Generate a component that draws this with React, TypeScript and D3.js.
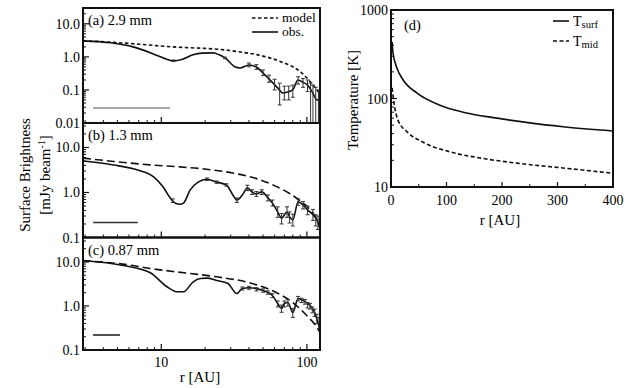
import * as d3 from "d3";

// ---- data ----
// panel (a) 2.9 mm
const modelA = [[2.9, 3.05], [5, 2.7], [8, 2.3], [11, 2.05], [15, 1.9], [20, 1.8], [27, 1.63], [35, 1.4], [46, 1.15], [57, 0.9], [67, 0.7], [80, 0.5], [92, 0.33], [103, 0.2], [113, 0.123], [123, 0.075]];
const obsA = [[2.9, 3.05], [4.5, 2.66], [6.4, 2.0], [8.8, 1.23], [10.5, 0.9], [12.1, 0.76], [14, 0.85], [16.5, 1.15], [19, 1.3], [22.7, 1.32], [25, 1.15], [27.4, 0.93], [32, 0.5], [34.7, 0.46], [40, 0.57], [46, 0.46], [51.6, 0.28], [57.5, 0.175], [63, 0.115], [68.5, 0.081], [74, 0.087], [80, 0.1], [86.7, 0.2], [94, 0.17], [101, 0.14], [110, 0.08], [117, 0.05], [123, 0.05]];
const errA = [[12.1, 0.72, 0.8], [27.4, 0.88, 0.98], [40, 0.5, 0.65], [45, 0.42, 0.58], [50, 0.27, 0.4], [55, 0.17, 0.28], [60, 0.1, 0.21], [65, 0.035, 0.16], [70, 0.05, 0.13], [75, 0.05, 0.13], [80, 0.06, 0.14], [87, 0.15, 0.25], [94, 0.12, 0.22], [101, 0.09, 0.2], [106, 0.008, 0.16], [110, 0.005, 0.14], [115, 0.005, 0.12], [120, 0.005, 0.1]];

// panel (b) 1.3 mm
const modelB = [[2.9, 5.8], [4.7, 4.9], [8.4, 4.1], [13.5, 3.7], [18.5, 3.4], [31, 2.7], [47, 1.95], [62, 1.35], [76, 0.95], [90, 0.65], [105, 0.42], [115, 0.28], [123, 0.17]];
const obsB = [[2.9, 5.0], [4.7, 4.08], [6.8, 3.2], [8.9, 2.2], [10.3, 1.33], [11.5, 0.76], [12.5, 0.58], [13.5, 0.55], [14.2, 0.58], [15.8, 1.14], [17.9, 1.7], [20.6, 1.97], [24, 1.7], [28, 1.47], [31, 0.88], [33, 0.68], [36, 0.88], [39, 1.26], [42, 1.03], [44.7, 0.93], [49, 1.03], [54, 0.76], [58, 0.58], [63, 0.37], [67, 0.27], [73, 0.37], [76, 0.29], [80, 0.245], [87, 0.62], [94, 0.53], [101, 0.41], [110, 0.32], [119, 0.22], [123, 0.16]];
const errB = [[12, 0.6, 0.72], [20.6, 1.85, 2.1], [24, 1.6, 1.8], [28, 1.38, 1.56], [33, 0.6, 0.76], [39, 1.1, 1.45], [42, 0.9, 1.15], [45, 0.82, 1.05], [49, 0.9, 1.15], [54, 0.65, 0.88], [58, 0.5, 0.68], [63, 0.28, 0.48], [67, 0.2, 0.34], [73, 0.28, 0.48], [76, 0.21, 0.37], [80, 0.18, 0.33], [87, 0.52, 0.72], [94, 0.43, 0.63], [101, 0.32, 0.5], [110, 0.24, 0.42], [115, 0.18, 0.32], [119, 0.15, 0.3], [123, 0.1, 0.25]];

// panel (c) 0.87 mm
const modelC = [[2.9, 10.7], [6.4, 8.3], [8.4, 7.1], [12, 6.1], [24, 4.6], [40, 3.4], [62, 2.0], [80, 1.2], [100, 0.6], [117, 0.33], [123, 0.25]];
const obsC = [[2.9, 10.8], [5.5, 8.3], [8.4, 5.7], [11, 2.7], [12.9, 2.1], [14.2, 2.1], [16.5, 3.5], [18.5, 4.2], [20.6, 4.3], [24, 3.8], [28.7, 3.25], [33, 1.92], [36, 2.5], [40, 2.6], [50, 2.25], [58, 1.73], [63, 1.14], [67, 0.88], [70, 1.14], [74, 1.2], [80, 0.71], [87, 1.48], [97, 1.26], [105, 1.03], [113, 0.71], [119, 0.42], [123, 0.28]];
const errC = [[36, 2.3, 2.7], [40, 2.4, 2.8], [45, 2.2, 2.6], [50, 2.05, 2.45], [54, 1.85, 2.2], [58, 1.55, 1.9], [63, 0.95, 1.3], [67, 0.72, 1.05], [70, 0.95, 1.3], [74, 1.0, 1.4], [80, 0.55, 0.88], [87, 1.3, 1.65], [92, 1.2, 1.5], [97, 1.1, 1.4], [101, 0.9, 1.2], [105, 0.85, 1.15], [109, 0.7, 0.95], [113, 0.58, 0.85], [117, 0.4, 0.65], [121, 0.3, 0.55]];

// panel (d) temperatures
const tSurf = [[2, 435], [3.6, 327], [10, 227], [22, 162], [47, 115], [88, 84], [130, 70], [191, 60], [250, 53], [310, 48], [400, 43]];
const tMid = [[2, 132], [5.4, 89], [12.6, 57], [29, 42], [58, 32], [106, 25], [166, 21], [227, 18.6], [310, 16.4], [400, 14.3]];

const leftTicksA = [10, 1, 0.1, 0.01];
const leftTicksBC = [10, 1, 0.1];
const rTicks = [10, 100];
const tempTicks = [1000, 100, 10];
const rLinTicks = [0, 100, 200, 300, 400];

const FONT = "Liberation Serif, Times New Roman, serif";

const x = d3.scaleLog().domain([2.9, 123]).range([83, 320]);

function fmt(v: number) {
  return v >= 1 ? v.toFixed(1) : v === 0.01 ? "0.01" : v.toFixed(1);
}

function Panel({ top, bottom, domain, ticks, model, obs, err, label, dash, beamEnd, beamColor, showX }: any) {
  const y = d3.scaleLog().domain(domain).range([bottom, top]).clamp(true);
  const line = d3.line<any>().x(d => x(d[0])).y(d => y(d[1])).curve(d3.curveMonotoneX);
  const minorY: number[] = [];
  for (let dec = Math.pow(10, Math.floor(Math.log10(domain[0]))); dec < domain[1]; dec *= 10) {
    for (let k = 1; k < 10; k++) {
      const v = dec * k;
      if (v > domain[0] && v < domain[1] && k !== 1) minorY.push(v);
    }
  }
  const minorX: number[] = [];
  [1, 10, 100].forEach(dec => {
    for (let k = 2; k < 10; k++) {
      const v = dec * k;
      if (v > 2.9 && v < 123) minorX.push(v);
    }
  });
  const clipId = "clip" + Math.round(top);
  return (
    <g>
      <defs>
        <clipPath id={clipId}>
          <rect x={83} y={top} width={237} height={bottom - top} />
        </clipPath>
      </defs>
      {ticks.map((t: number) => (
        <g key={t}>
          <line x1={83} x2={89} y1={y(t)} y2={y(t)} stroke="#111" strokeWidth={1.2} />
          <text x={80} y={y(t) + 5} textAnchor="end" fontSize={14} fontFamily={FONT}>{fmt(t)}</text>
        </g>
      ))}
      {minorY.map(v => (
        <line key={v} x1={83} x2={86} y1={y(v)} y2={y(v)} stroke="#111" strokeWidth={1} />
      ))}
      {minorX.map(v => (
        <line key={v} x1={x(v)} x2={x(v)} y1={bottom} y2={bottom - 3} stroke="#111" strokeWidth={1} />
      ))}
      {rTicks.map(v => (
        <line key={v} x1={x(v)} x2={x(v)} y1={bottom} y2={bottom - 6} stroke="#111" strokeWidth={1.2} />
      ))}
      {showX && rTicks.map(v => (
        <text key={v} x={x(v)} y={bottom + 17} textAnchor="middle" fontSize={14} fontFamily={FONT}>{v}</text>
      ))}
      <g clipPath={`url(#${clipId})`}>
        <path d={line(model) || ""} fill="none" stroke="#111" strokeWidth={1.6} strokeDasharray={dash} />
        <path d={line(obs) || ""} fill="none" stroke="#111" strokeWidth={1.6} />
        {err.map((e: number[], i: number) => (
          <g key={i} stroke="#333" strokeWidth={1}>
            <line x1={x(e[0])} x2={x(e[0])} y1={y(e[1])} y2={y(e[2])} />
            <line x1={x(e[0]) - 2} x2={x(e[0]) + 2} y1={y(e[1])} y2={y(e[1])} />
            <line x1={x(e[0]) - 2} x2={x(e[0]) + 2} y1={y(e[2])} y2={y(e[2])} />
          </g>
        ))}
      </g>
      <line x1={x(3.4)} x2={x(beamEnd)} y1={bottom - 15} y2={bottom - 15} stroke={beamColor} strokeWidth={1.6} />
      <text x={88} y={top + 17} fontSize={14.5} fontFamily={FONT}>{label}</text>
      <rect x={83} y={top} width={237} height={bottom - top} fill="none" stroke="#111" strokeWidth={2} />
    </g>
  );
}

function TempPanel() {
  const xs = d3.scaleLinear().domain([0, 400]).range([391, 613]);
  const ys = d3.scaleLog().domain([10, 1000]).range([187, 10]);
  const line = d3.line<any>().x(d => xs(d[0])).y(d => ys(d[1])).curve(d3.curveMonotoneX);
  const minorY: number[] = [];
  [10, 100].forEach(dec => { for (let k = 2; k < 10; k++) minorY.push(dec * k); });
  const minorX = [50, 150, 250, 350];
  return (
    <g>
      {minorY.map(v => <line key={v} x1={391} x2={394} y1={ys(v)} y2={ys(v)} stroke="#111" strokeWidth={1} />)}
      {tempTicks.map(t => (
        <g key={t}>
          <line x1={391} x2={397} y1={ys(t)} y2={ys(t)} stroke="#111" strokeWidth={1.2} />
          <text x={388} y={ys(t) + 5} textAnchor="end" fontSize={14} fontFamily={FONT}>{t}</text>
        </g>
      ))}
      {rLinTicks.map(t => (
        <g key={t}>
          <line x1={xs(t)} x2={xs(t)} y1={187} y2={182} stroke="#111" strokeWidth={1.2} />
          <text x={xs(t)} y={205} textAnchor="middle" fontSize={14} fontFamily={FONT}>{t}</text>
        </g>
      ))}
      {minorX.map(t => <line key={t} x1={xs(t)} x2={xs(t)} y1={187} y2={184} stroke="#111" strokeWidth={1} />)}
      <path d={line(tSurf) || ""} fill="none" stroke="#111" strokeWidth={1.6} />
      <path d={line(tMid) || ""} fill="none" stroke="#111" strokeWidth={1.6} strokeDasharray="4,2.5" />
      <text x={404} y={30} fontSize={14.5} fontFamily={FONT}>(d)</text>
      <line x1={553} x2={569} y1={21} y2={21} stroke="#111" strokeWidth={1.6} />
      <text x={573} y={26} fontSize={14} fontFamily={FONT}>T<tspan fontSize={10.5} dy={1.5}>surf</tspan></text>
      <line x1={553} x2={569} y1={41} y2={41} stroke="#111" strokeWidth={1.6} strokeDasharray="4,2.5" />
      <text x={573} y={46} fontSize={14} fontFamily={FONT}>T<tspan fontSize={10.5} dy={1.5}>mid</tspan></text>
      <text x={500} y={225} textAnchor="middle" fontSize={15} fontFamily={FONT}>r [AU]</text>
      <text transform="translate(358,100) rotate(-90)" textAnchor="middle" fontSize={15} fontFamily={FONT}>Temperature [K]</text>
      <rect x={391} y={10} width={222} height={177} fill="none" stroke="#111" strokeWidth={2} />
    </g>
  );
}

export default function App() {
  return (
    <svg width={626} height={388} style={{ position: "absolute", left: 0, top: 0, background: "#fff" }}>
      <Panel top={8} bottom={123} domain={[0.01, 30]} ticks={leftTicksA} model={modelA} obs={obsA} err={errA}
        label="(a) 2.9 mm" dash="3.5,2.5" beamEnd={11.5} beamColor="#888" showX={false} />
      <Panel top={123} bottom={237.5} domain={[0.1, 35]} ticks={leftTicksBC} model={modelB} obs={obsB} err={errB}
        label="(b) 1.3 mm" dash="8,4" beamEnd={6.9} beamColor="#333" showX={false} />
      <Panel top={237.5} bottom={350} domain={[0.1, 36]} ticks={leftTicksBC} model={modelC} obs={obsC} err={errC}
        label="(c) 0.87 mm" dash="8,4" beamEnd={5.2} beamColor="#222" showX={true} />
      <line x1={252} x2={278} y1={18} y2={18} stroke="#111" strokeWidth={1.6} strokeDasharray="3.5,2.5" />
      <text x={282} y={22} fontSize={13.5} fontFamily={FONT}>model</text>
      <line x1={252} x2={278} y1={32} y2={32} stroke="#111" strokeWidth={1.6} />
      <text x={282} y={36} fontSize={13.5} fontFamily={FONT}>obs.</text>
      <text x={200} y={382} textAnchor="middle" fontSize={15} fontFamily={FONT}>r [AU]</text>
      <text transform="translate(30,175) rotate(-90)" textAnchor="middle" fontSize={15} fontFamily={FONT}>Surface Brightness</text>
      <text transform="translate(50,175) rotate(-90)" textAnchor="middle" fontSize={15} fontFamily={FONT}>
        [mJy beam<tspan fontSize={10} dy={-5}>-1</tspan><tspan dy={5}>]</tspan>
      </text>
      <TempPanel />
    </svg>
  );
}
